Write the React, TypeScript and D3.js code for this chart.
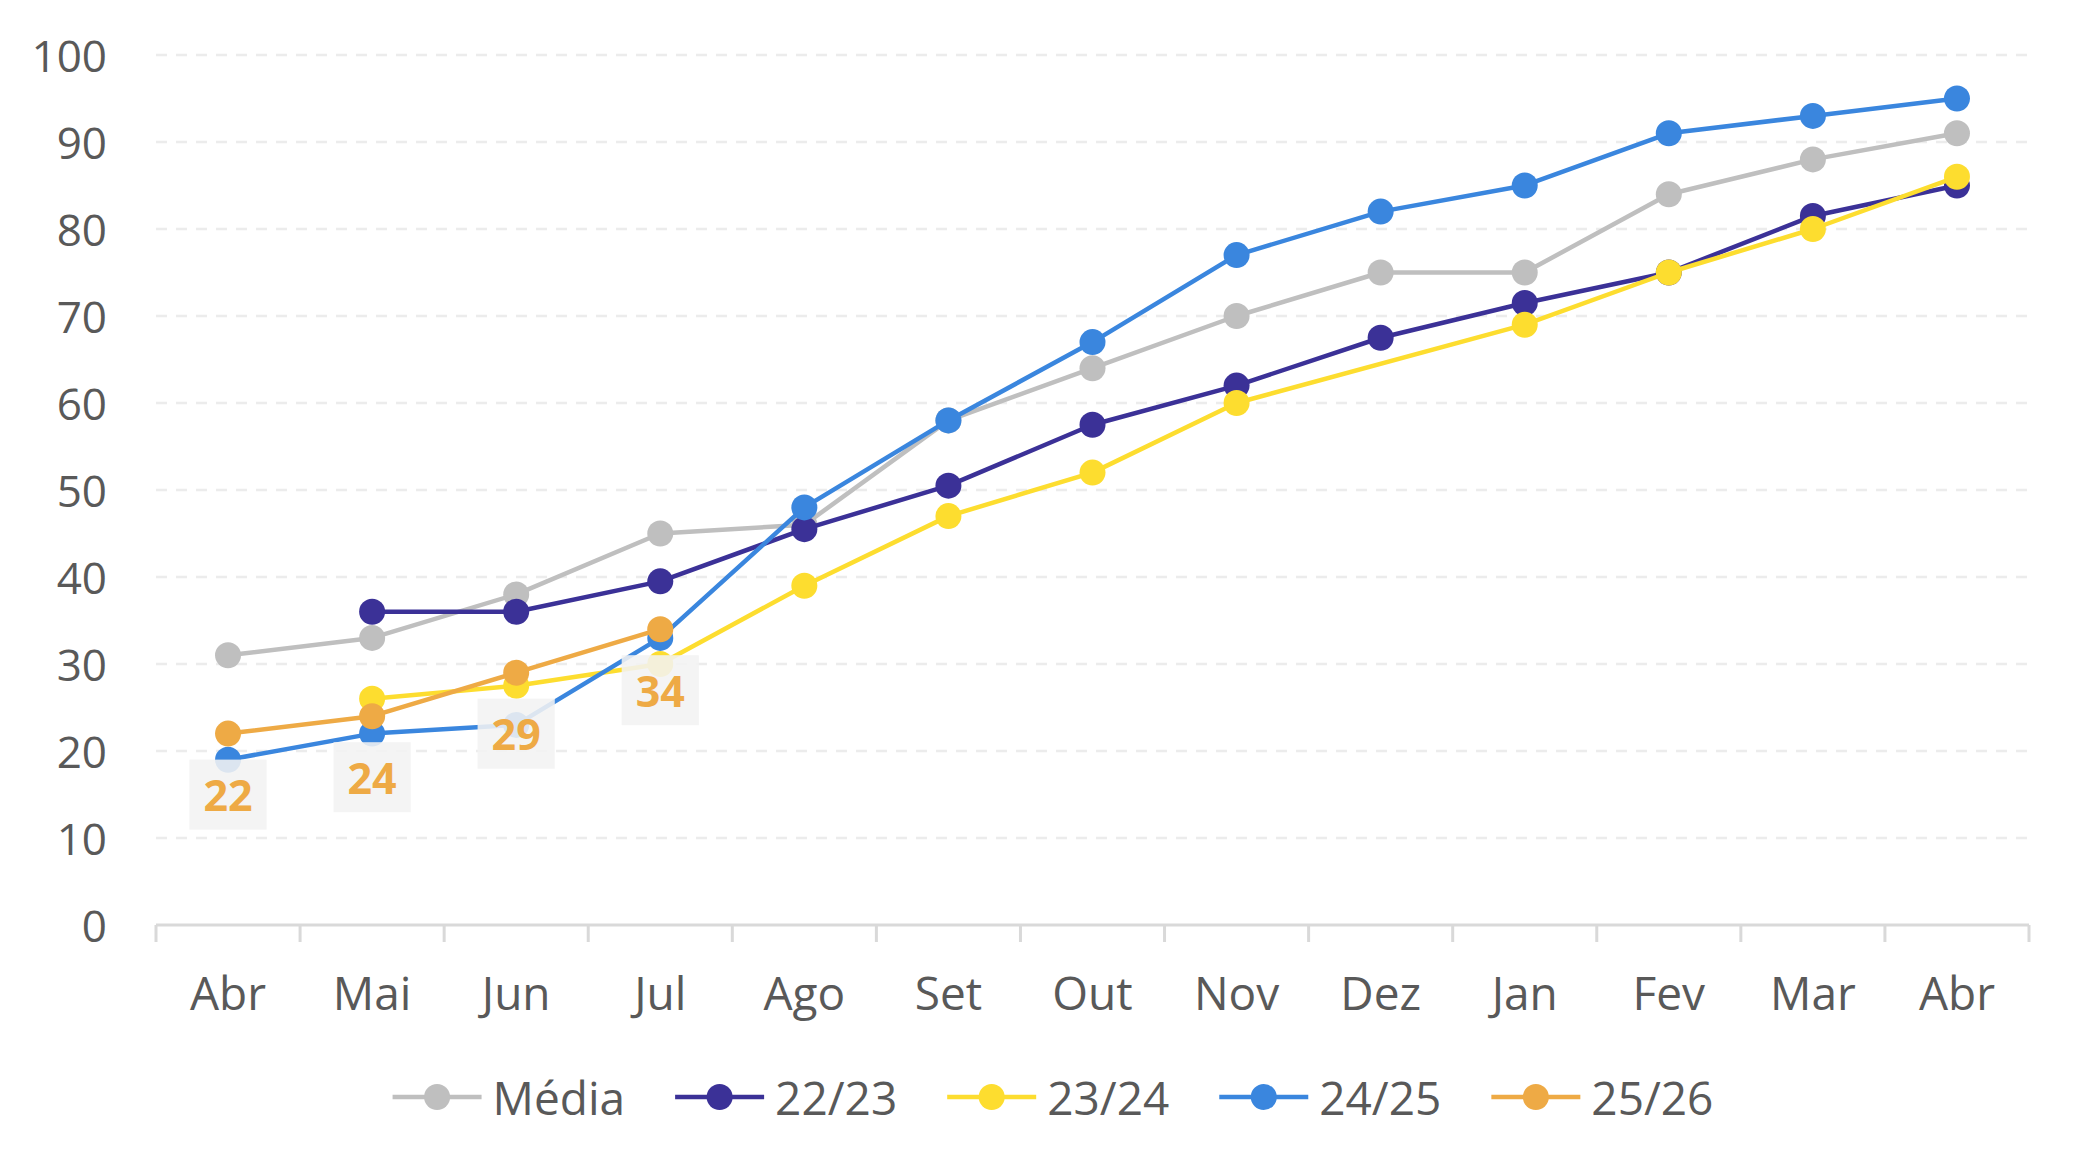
import React, { useEffect, useRef } from "react";
import * as d3 from "d3";

const months = ["Abr", "Mai", "Jun", "Jul", "Ago", "Set", "Out", "Nov", "Dez", "Jan", "Fev", "Mar", "Abr"];
const yTicks = [0, 10, 20, 30, 40, 50, 60, 70, 80, 90, 100];

const media: (number | null)[] = [31, 33, 38, 45, 46, 58, 64, 70, 75, 75, 84, 88, 91];
const s2223: (number | null)[] = [null, 36, 36, 39.5, 45.5, 50.5, 57.5, 62, 67.5, 71.5, 75, 81.5, 85];
const s2324: (number | null)[] = [null, 26, 27.5, 30, 39, 47, 52, 60, null, 69, 75, 80, 86];
const s2425: (number | null)[] = [19, 22, 23, 33, 48, 58, 67, 77, 82, 85, 91, 93, 95];
const s2526: (number | null)[] = [22, 24, 29, 34, null, null, null, null, null, null, null, null, null];

const seriesNames = ["Média", "22/23", "23/24", "24/25", "25/26"];
const seriesValues = [media, s2223, s2324, s2425, s2526];
const seriesColors = ["#bfbfbf", "#3b3197", "#fddd2f", "#3a86de", "#eeaa45"];
const labeledSeriesIndex = 4;

const W = 2080;
const H = 1170;
const FONT = "'Open Sans', 'Noto Sans', sans-serif";
const TEXT = "#595959";

export default function App() {
  const ref = useRef<SVGSVGElement | null>(null);

  useEffect(() => {
    document.body.style.margin = "0";
    const svg = d3.select(ref.current);
    svg.selectAll("*").remove();

    const left = 156, right = 2029, top = 55, bottom = 925;
    const x = d3.scaleBand<number>().domain(d3.range(months.length)).range([left, right]);
    const y = d3.scaleLinear().domain([0, 100]).range([bottom, top]);
    const cx = (i: number) => (x(i) as number) + x.bandwidth() / 2;

    // gridlines
    svg.append("g").selectAll("line").data(yTicks.filter(t => t > 0)).join("line")
      .attr("x1", left).attr("x2", right)
      .attr("y1", d => y(d)).attr("y2", d => y(d))
      .attr("stroke", "#ececec").attr("stroke-width", 2.5).attr("stroke-dasharray", "11 9");

    // y labels
    svg.append("g").selectAll("text").data(yTicks).join("text")
      .attr("x", 107).attr("y", d => y(d)).attr("text-anchor", "end")
      .attr("dominant-baseline", "central")
      .attr("font-family", FONT).attr("font-size", 44).attr("fill", TEXT)
      .text(d => String(d));

    // x axis
    svg.append("line").attr("x1", left).attr("x2", right).attr("y1", bottom).attr("y2", bottom)
      .attr("stroke", "#d9d9d9").attr("stroke-width", 3);
    svg.append("g").selectAll("line").data(d3.range(months.length + 1)).join("line")
      .attr("x1", i => left + i * x.step()).attr("x2", i => left + i * x.step())
      .attr("y1", bottom).attr("y2", bottom + 17)
      .attr("stroke", "#d9d9d9").attr("stroke-width", 3);
    svg.append("g").selectAll("text").data(months).join("text")
      .attr("x", (_d, i) => cx(i)).attr("y", 1010).attr("text-anchor", "middle")
      .attr("font-family", FONT).attr("font-size", 46).attr("fill", TEXT)
      .text(d => d);

    // series
    const line = d3.line<{ i: number; v: number }>().x(d => cx(d.i)).y(d => y(d.v));
    seriesValues.forEach((vals, si) => {
      const pts = vals.map((v, i) => ({ i, v: v as number })).filter((_d, i) => vals[i] != null);
      const g = svg.append("g");
      g.append("path").attr("d", line(pts) || "").attr("fill", "none")
        .attr("stroke", seriesColors[si]).attr("stroke-width", 4.5).attr("stroke-linejoin", "round");
      g.selectAll("circle").data(pts).join("circle")
        .attr("cx", d => cx(d.i)).attr("cy", d => y(d.v)).attr("r", 13)
        .attr("fill", seriesColors[si]);
    });

    // data labels
    const lv = seriesValues[labeledSeriesIndex];
    const lpts = lv.map((v, i) => ({ i, v: v as number })).filter((_d, i) => lv[i] != null);
    const lg = svg.append("g");
    lpts.forEach(p => {
      const gy = y(p.v) + 61;
      const rect = lg.append("rect").attr("fill", "#f2f2f2").attr("opacity", 0.88);
      const t = lg.append("text").attr("x", cx(p.i)).attr("y", gy)
        .attr("text-anchor", "middle").attr("dominant-baseline", "central")
        .attr("font-family", FONT).attr("font-weight", 700).attr("font-size", 43)
        .attr("fill", seriesColors[labeledSeriesIndex]).text(String(p.v));
      const w = (t.node() as SVGTextElement).getComputedTextLength() + 28;
      rect.attr("x", cx(p.i) - w / 2).attr("y", gy - 35).attr("width", w).attr("height", 70);
    });

    // legend
    const legY = 1097;
    const lineLen = 89, textGap = 11, itemGap = 50;
    const leg = svg.append("g");
    let cursor = 0;
    const items: { g: any; w: number }[] = [];
    seriesNames.forEach((name, si) => {
      const g = leg.append("g");
      g.append("line").attr("x1", 0).attr("x2", lineLen).attr("y1", legY).attr("y2", legY)
        .attr("stroke", seriesColors[si]).attr("stroke-width", 4.5);
      g.append("circle").attr("cx", lineLen / 2).attr("cy", legY).attr("r", 13).attr("fill", seriesColors[si]);
      const t = g.append("text").attr("x", lineLen + textGap).attr("y", legY)
        .attr("dominant-baseline", "central")
        .attr("font-family", FONT).attr("font-size", 46).attr("fill", TEXT).text(name);
      const w = lineLen + textGap + (t.node() as SVGTextElement).getComputedTextLength();
      items.push({ g, w });
    });
    const total = d3.sum(items, d => d.w) + itemGap * (items.length - 1);
    cursor = 1053 - total / 2;
    items.forEach(it => {
      it.g.attr("transform", `translate(${cursor},0)`);
      cursor += it.w + itemGap;
    });
  }, []);

  return <svg ref={ref} width={W} height={H} style={{ display: "block", background: "#fff" }} />;
}
